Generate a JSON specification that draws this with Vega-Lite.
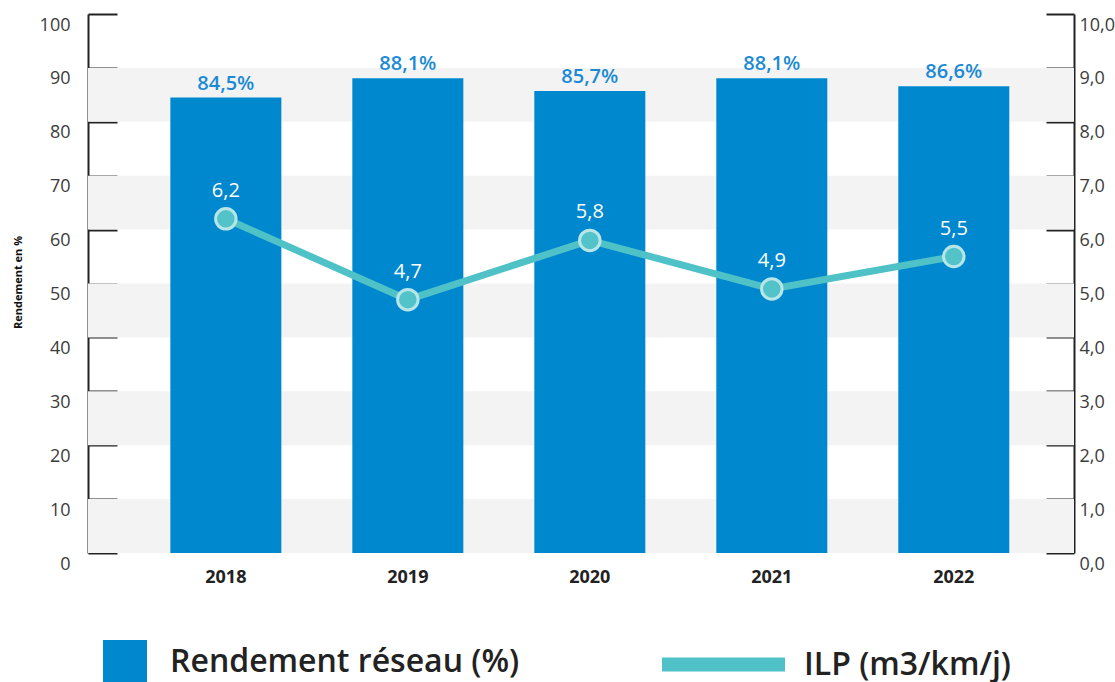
{
  "$schema": "https://vega.github.io/schema/vega-lite/v6.json",
  "width": 986,
  "height": 539,
  "autosize": {"type": "none"},
  "padding": {"left": 88, "top": 14, "right": 41, "bottom": 129},
  "background": "white",
  "config": {
    "view": {"stroke": null},
    "font": "Open Sans",
    "locale": {"number": {"decimal": ",", "thousands": " ", "grouping": [3], "currency": ["", "%"]}}
  },
  "data": {
    "values": [
      {"annee": "2018", "rendement": 84.5, "ilp": 6.2},
      {"annee": "2019", "rendement": 88.1, "ilp": 4.7},
      {"annee": "2020", "rendement": 85.7, "ilp": 5.8},
      {"annee": "2021", "rendement": 88.1, "ilp": 4.9},
      {"annee": "2022", "rendement": 86.6, "ilp": 5.5}
    ]
  },
  "encoding": {
    "x": {
      "field": "annee",
      "type": "nominal",
      "scale": {"paddingInner": 0.39, "paddingOuter": 0.404, "align": 0.56},
      "axis": {
        "title": null,
        "domain": false,
        "ticks": false,
        "labelAngle": 0,
        "labelFont": "Open Sans",
        "labelFontSize": 18,
        "labelFontWeight": "bold",
        "labelColor": "#222222",
        "labelPadding": 15
      }
    }
  },
  "layer": [
    {
      "layer": [
        {
          "data": {"values": [{"lo": 0, "hi": 10}, {"lo": 20, "hi": 30}, {"lo": 40, "hi": 50}, {"lo": 60, "hi": 70}, {"lo": 80, "hi": 90}]},
          "mark": {"type": "rect", "color": "#f3f3f3"},
          "encoding": {
            "x": null,
            "y": {
              "field": "lo",
              "type": "quantitative",
              "scale": {"domain": [0, 100], "nice": false, "zero": true},
              "axis": {
                "title": "Rendement en %",
                "titleFont": "Open Sans",
                "titleFontSize": 11,
                "titleFontWeight": "bold",
                "titleColor": "#111111",
                "titleX": -70,
                "titleY": 268,
                "titleAngle": -90,
                "titleAlign": "center",
                "titleBaseline": "middle",
                "values": [0, 10, 20, 30, 40, 50, 60, 70, 80, 90, 100],
                "grid": false,
                "domainColor": "#222222",
                "domainWidth": 2,
                "tickColor": "#222222",
                "tickWidth": 2,
                "tickSize": -29,
                "labelFont": "Open Sans",
                "labelFontSize": 18,
                "labelColor": "#3c3c3c",
                "labelPadding": 47,
                "labelOffset": 11,
                "labelBaseline": "middle",
                "labelOverlap": false
              }
            },
            "y2": {"field": "hi"}
          }
        },
        {
          "mark": {"type": "bar"},
          "encoding": {
            "y": {"field": "rendement", "type": "quantitative"},
            "fill": {
              "datum": "Rendement réseau (%)",
              "type": "nominal",
              "scale": {"range": ["#0088cf"]},
              "legend": {
                "orient": "none",
                "legendX": 15,
                "legendY": 626,
                "title": null,
                "symbolType": "square",
                "symbolSize": 1936,
                "symbolStrokeWidth": 0,
                "labelFont": "Open Sans",
                "labelFontSize": 32,
                "labelFontWeight": 600,
                "labelColor": "#222222",
                "labelOffset": 23,
                "labelLimit": 800,
                "padding": 0
              }
            }
          }
        },
        {
          "mark": {"type": "text", "baseline": "bottom", "dy": -4, "fontSize": 20, "fontWeight": 600, "font": "Open Sans", "color": "#1a8ad4"},
          "encoding": {
            "y": {"field": "rendement", "type": "quantitative"},
            "text": {"field": "rendement", "type": "quantitative", "format": "$.1f"}
          }
        }
      ]
    },
    {
      "layer": [
        {
          "mark": {"type": "line", "strokeWidth": 7},
          "encoding": {
            "y": {
              "field": "ilp",
              "type": "quantitative",
              "scale": {"domain": [0, 10], "nice": false},
              "axis": {
                "orient": "right",
                "title": null,
                "values": [0, 1, 2, 3, 4, 5, 6, 7, 8, 9, 10],
                "format": ".1f",
                "grid": false,
                "domainColor": "#222222",
                "domainWidth": 2,
                "tickColor": "#222222",
                "tickWidth": 2,
                "tickSize": -28,
                "labelFont": "Open Sans",
                "labelFontSize": 18,
                "labelColor": "#3c3c3c",
                "labelPadding": 33,
                "labelOffset": 11,
                "labelBaseline": "middle",
                "labelOverlap": false
              }
            },
            "stroke": {
              "datum": "ILP (m3/km/j)",
              "type": "nominal",
              "scale": {"range": ["#4fc2c8"]},
              "legend": {
                "orient": "none",
                "legendX": 567,
                "legendY": 582,
                "title": null,
                "symbolType": "stroke",
                "symbolSize": 15129,
                "symbolStrokeWidth": 14,
                "labelFont": "Open Sans",
                "labelFontSize": 32,
                "labelFontWeight": 600,
                "labelColor": "#222222",
                "labelOffset": 12,
                "labelLimit": 800,
                "padding": 0
              }
            }
          }
        },
        {
          "mark": {"type": "point", "filled": true, "shape": "circle", "size": 420, "fill": "#52c3c9", "stroke": "#b8e6e8", "strokeWidth": 3, "opacity": 1},
          "encoding": {
            "y": {"field": "ilp", "type": "quantitative"}
          }
        },
        {
          "mark": {"type": "text", "baseline": "bottom", "dy": -18, "fontSize": 20, "fontWeight": 500, "font": "Open Sans", "color": "white"},
          "encoding": {
            "y": {"field": "ilp", "type": "quantitative"},
            "text": {"field": "ilp", "type": "quantitative", "format": ".1f"}
          }
        }
      ]
    }
  ],
  "resolve": {"scale": {"y": "independent"}}
}
